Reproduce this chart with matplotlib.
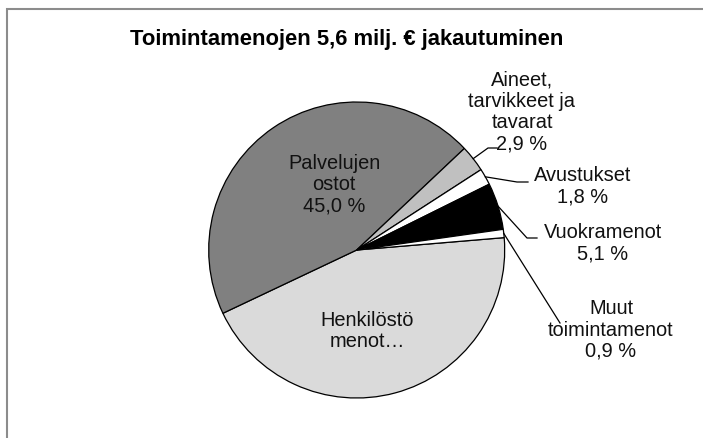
import numpy as np
import matplotlib.pyplot as plt
from matplotlib.patches import Rectangle

plt.rcParams['font.family'] = ['Liberation Sans', 'DejaVu Sans']

# data
labels = ['Henkilöstö\nmenot…', 'Palvelujen\nostot', 'Aineet,\ntarvikkeet ja\ntavarat',
          'Avustukset', 'Vuokramenot', 'Muut\ntoimintamenot']
shares = [44.3, 45.0, 2.9, 1.8, 5.1, 0.9]
show_pct = [False, True, True, True, True, True]
colors = ['#dadada', '#808080', '#c0c0c0', '#ffffff', '#000000', '#ffffff']

# layout (pixels, origin top-left)
W, H = 703, 438
cx, cy, r = 356.7, 250, 148
label_pos = [(367, 331), (334, 185), (522, 112), (583, 186), (603, 243), (611, 330)]
# leader line bends / ends (None = label inside the pie)
leader_pts = [None, None, [(488, 148), (497, 148)], [(517, 182), (528, 182)],
              [(527, 238), (537, 238)], [(560, 323)]]

fig = plt.figure(figsize=(W / 100, H / 100), dpi=100)
ax = fig.add_axes([0, 0, 1, 1])

wedges, _ = ax.pie(shares, colors=colors, startangle=4.8, counterclock=False,
                   center=(cx, H - cy), radius=r,
                   wedgeprops=dict(edgecolor='black', linewidth=0.9))
ax.set_xlim(0, W)
ax.set_ylim(0, H)
ax.set_aspect('equal')
ax.axis('off')

for w, lab, val, pct, (lx, ly), pts in zip(wedges, labels, shares, show_pct,
                                            label_pos, leader_pts):
    txt = lab + (f'\n{val:.1f} %'.replace('.', ',') if pct else '')
    ax.text(lx, H - ly, txt, ha='center', va='center', multialignment='center',
            fontsize=14.4, linespacing=1.15, color='#111111', zorder=5)
    if pts:
        mid = np.deg2rad((w.theta1 + w.theta2) / 2)
        xs = [cx + r * np.cos(mid)] + [p[0] for p in pts]
        ys = [H - cy + r * np.sin(mid)] + [H - p[1] for p in pts]
        ax.plot(xs, ys, color='black', lw=0.9, zorder=4)

fig.text(347 / W, 1 - 39 / H, 'Toimintamenojen 5,6 milj. € jakautuminen',
         ha='center', va='center', fontsize=15.8, fontweight='bold')

# chart area border (only top and left edges fall inside the image)
fig.patches.append(Rectangle((7.5 / W, -0.1), 1.2, 1.1 - 8.5 / H, transform=fig.transFigure,
                             fill=False, edgecolor='#8c8c8c', linewidth=1.5))

fig.savefig('out.png', dpi=100)
